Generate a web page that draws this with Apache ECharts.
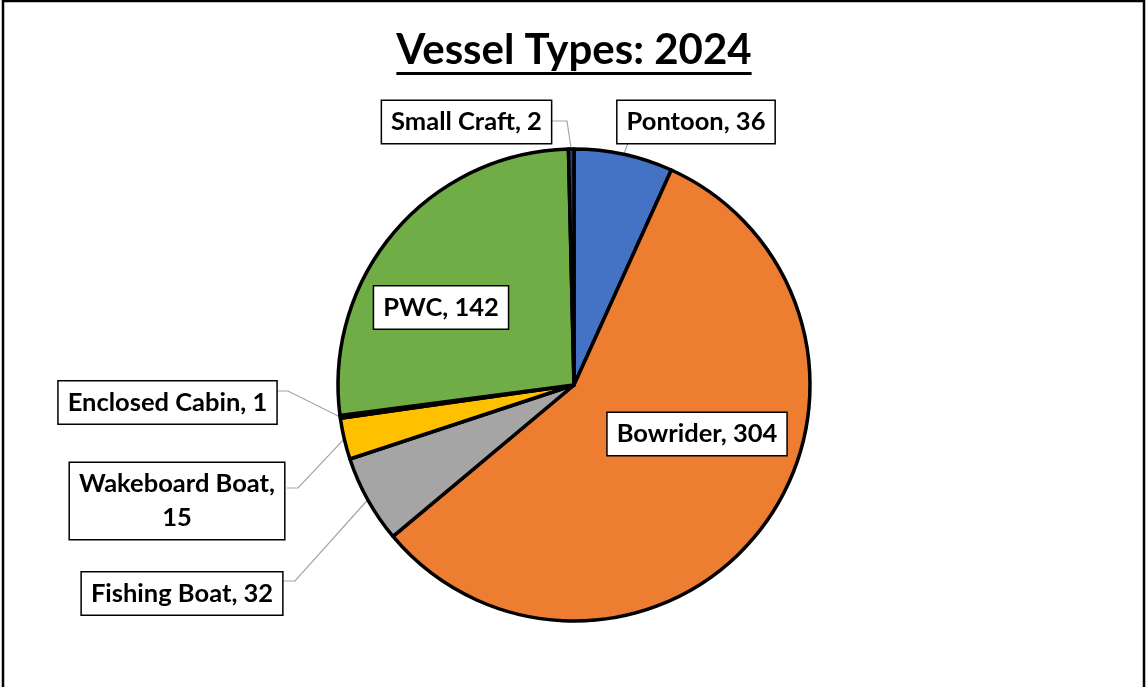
<!DOCTYPE html>
<html>
<head>
<meta charset="utf-8">
<script src="https://cdn.jsdelivr.net/npm/echarts@6/dist/echarts.min.js"></script>
<style>
  html, body { margin: 0; padding: 0; background: #fff; }
  #chart { width: 1146px; height: 687px; }
</style>
</head>
<body>
<div id="chart"></div>
<script>
// Vessel counts, listed clockwise from 12 o'clock
const categories = ['Pontoon', 'Bowrider', 'Fishing Boat', 'Wakeboard Boat', 'Enclosed Cabin', 'PWC', 'Small Craft'];
const counts = [36, 304, 32, 15, 1, 142, 2];
const sliceColors = ['#4472C4', '#ED7D31', '#A5A5A5', '#FFC000', '#5B9BD5', '#70AD47', '#264478'];
const titleText = 'Vessel Types: 2024';

// Label box centres and leader-line attachment points (elbow, box edge)
const labelPlacement = {
  'Pontoon':        { x: 696,   y: 122,   line: [[628, 143]] },
  'Bowrider':       { x: 697,   y: 434,   inside: true },
  'Fishing Boat':   { x: 182,   y: 593.5, line: [[295, 581], [282, 581]] },
  'Wakeboard Boat': { x: 177,   y: 501,   line: [[298, 488], [287, 488]], wrap: true },
  'Enclosed Cabin': { x: 167.5, y: 402.5, line: [[288, 391], [277, 391]] },
  'PWC':            { x: 441,   y: 307.5, inside: true },
  'Small Craft':    { x: 466.5, y: 122,   line: [[567, 121], [552, 121]] }
};

const FONT = 'Lato, "Open Sans", sans-serif';

const pieData = categories.map((name, i) => {
  const place = labelPlacement[name];
  const item = { name: name, value: counts[i], itemStyle: { color: sliceColors[i] } };
  if (place.inside) item.labelLine = { show: false };
  if (place.wrap) item.label = { formatter: '{b},\n{c}' };
  return item;
});

const chart = echarts.init(document.getElementById('chart'), null, { renderer: 'canvas' });

// measure title so the underline spans it
const titleFont = 'bold 42px ' + FONT;
const ctx = document.createElement('canvas').getContext('2d');
ctx.font = titleFont;
const titleW = ctx.measureText(titleText).width;
const titleCx = 574;

chart.setOption({
  animation: false,
  backgroundColor: '#fff',
  graphic: [
    { type: 'rect', shape: { x: 3, y: 1, width: 1141, height: 720 },
      style: { fill: 'none', stroke: '#000', lineWidth: 2.5 }, silent: true },
    { type: 'text', x: titleCx, y: 50,
      style: { text: titleText, font: titleFont, fill: '#000', align: 'center', verticalAlign: 'middle' } },
    { type: 'rect', shape: { x: titleCx - titleW / 2, y: 72, width: titleW, height: 3 },
      style: { fill: '#000' } }
  ],
  series: [{
    type: 'pie',
    center: [574, 385],
    radius: 236,
    startAngle: 90,
    clockwise: true,
    avoidLabelOverlap: false,
    data: pieData,
    itemStyle: { borderColor: '#000', borderWidth: 3.5 },
    label: {
      show: true,
      position: 'outside',
      formatter: '{b}, {c}',
      fontFamily: FONT,
      fontWeight: 'bold',
      fontSize: 25.5,
      color: '#000',
      lineHeight: 34,
      align: 'center',
      verticalAlign: 'middle',
      backgroundColor: '#fff',
      borderColor: '#000',
      borderWidth: 1.5,
      padding: [4, 9, 4, 9]
    },
    labelLine: {
      show: true,
      lineStyle: { color: '#A6A6A6', width: 1.2 }
    },
    labelLayout: function (params) {
      const place = labelPlacement[categories[params.dataIndex]];
      const out = { x: place.x, y: place.y, align: 'center', verticalAlign: 'middle' };
      if (!place.inside && params.labelLinePoints) {
        out.labelLinePoints = [params.labelLinePoints[0]].concat(place.line);
      }
      return out;
    },
    emphasis: { disabled: true }
  }]
});
</script>
</body>
</html>
